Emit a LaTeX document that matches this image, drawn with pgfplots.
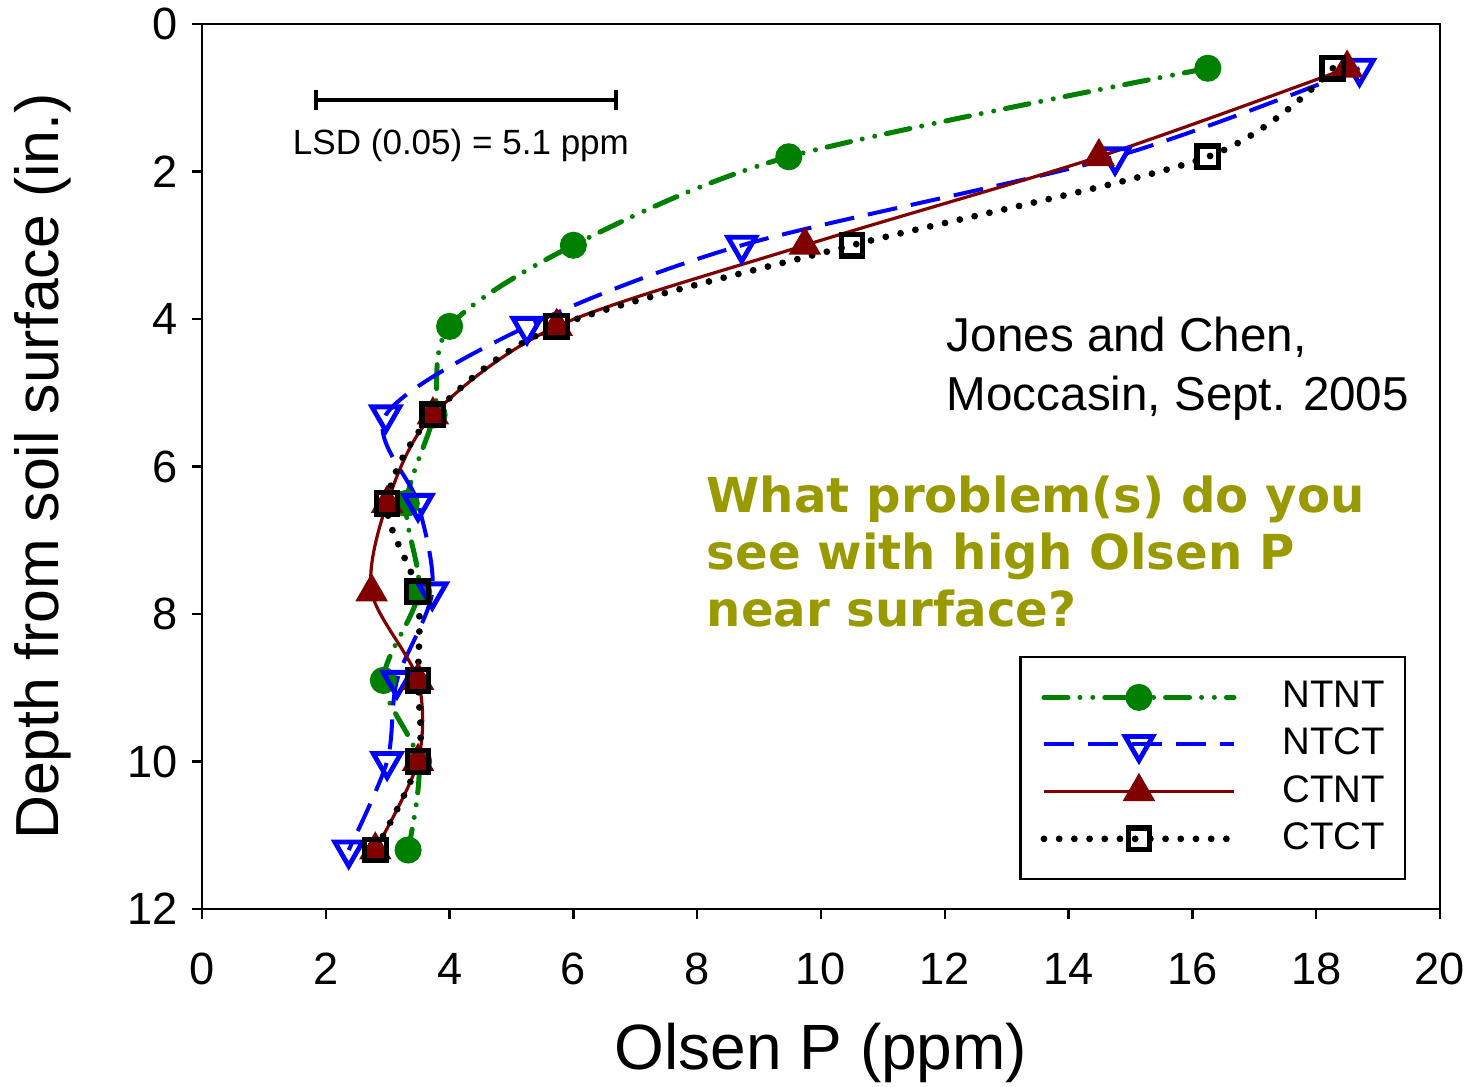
\documentclass[border=0pt]{standalone}
\usepackage{fontspec}
\setmainfont{Liberation Sans}
\newfontfamily\olivefont{DejaVu Sans}
\usepackage{pgfplots}
\pgfplotsset{compat=1.18}
\definecolor{ntnt}{RGB}{0,128,0}
\definecolor{ntct}{RGB}{0,0,255}
\definecolor{ctnt}{RGB}{128,0,0}
\definecolor{olivetext}{RGB}{153,153,0}

\begin{document}
\begin{tikzpicture}
\begin{axis}[
  scale only axis, width=309.5pt, height=221.25pt,
  xmin=0, xmax=20, ymin=0, ymax=12, y dir=reverse,
  xtick={0,2,...,20}, ytick={0,2,...,12},
  tick align=outside, xtick pos=left, ytick pos=left, major tick length=2.5pt,
  axis line style={line width=0.6pt},
  every tick/.style={black, line width=0.6pt},
  /pgf/number format/assume math mode=true,
  ticklabel style={font=\fontsize{11.3}{13}\selectfont},
  xticklabel style={yshift=-5pt},
  xlabel={Olsen P (ppm)},
  ylabel={Depth from soil surface (in.)},
  xlabel style={font=\fontsize{16}{19}\selectfont, at={(axis description cs:0.5,-0.163)}, anchor=center},
  ylabel style={font=\fontsize{15.2}{18}\selectfont, at={(axis description cs:-0.129,0.5)}, anchor=center},
  legend image code/.code={\draw[mark repeat=2,mark phase=2,#1] plot coordinates {(0pt,0pt) (23.75pt,0pt) (47.5pt,0pt)};},
  legend style={at={(axis description cs:0.9725,0.2859)}, anchor=north east,
    draw=black, line width=0.6pt, inner xsep=5pt, inner ysep=6pt,
    font=\fontsize{9.6}{11}\selectfont, row sep=3.6pt,
    nodes={inner sep=0pt},
    /tikz/every odd column/.append style={column sep=11.25pt}},
  legend cell align=left,
]
% NTNT
\addplot[ntnt, line width=1.25pt, smooth, line cap=round,
  dash pattern=on 6pt off 3pt on 0pt off 3.2pt on 0pt off 3pt,
  mark=*, mark size=2.75pt, mark options={solid, fill=ntnt}] coordinates {
  (16.25,0.6)(9.48,1.8)(6.0,3.0)(4.0,4.1)(3.75,5.3)(3.3,6.5)(3.5,7.7)(2.93,8.9)(3.5,10.0)(3.33,11.2)
}; \addlegendentry{NTNT}
% NTCT
\addplot[ntct, line width=1pt, smooth, dash pattern=on 7.5pt off 3.5pt,
  mark=triangle, mark size=4pt, mark options={solid, rotate=180, line width=1.2pt}] coordinates {
  (18.7,0.6)(14.75,1.8)(8.72,3.0)(5.25,4.1)(2.97,5.3)(3.49,6.5)(3.72,7.7)(3.15,8.9)(2.99,10.0)(2.37,11.2)
}; \addlegendentry{NTCT}
% CTNT
\addplot[ctnt, line width=0.8pt, smooth,
  mark=triangle*, mark size=3.9pt, mark options={solid, fill=ctnt}] coordinates {
  (18.5,0.6)(14.49,1.8)(9.74,3.0)(5.73,4.1)(3.73,5.3)(2.99,6.5)(2.74,7.7)(3.49,8.9)(3.49,10.0)(2.8,11.2)
}; \addlegendentry{CTNT}
% CTCT
\addplot[black, line width=1.7pt, smooth, line cap=round, dash pattern=on 0pt off 3.8pt,
  mark=square, mark size=2.7pt, mark options={solid, line width=1.3pt}] coordinates {
  (18.27,0.6)(16.25,1.8)(10.5,3.0)(5.73,4.1)(3.73,5.3)(2.99,6.5)(3.48,7.7)(3.49,8.9)(3.49,10.0)(2.8,11.2)
}; \addlegendentry{CTCT}

% LSD bar
\draw[line width=1pt] (axis cs:1.842,1.03) -- (axis cs:6.688,1.03);
\draw[line width=1pt] (axis cs:1.842,0.894) -- (axis cs:1.842,1.166);
\draw[line width=1pt] (axis cs:6.688,0.894) -- (axis cs:6.688,1.166);
\node[anchor=base, inner sep=0pt, font=\fontsize{8.76}{10}\selectfont] at (axis cs:4.184,1.776) {LSD (0.05) = 5.1 ppm};

\node[anchor=base west, inner sep=0pt, font=\fontsize{11.9}{14}\selectfont] at (axis cs:12.02,4.447) {Jones and Chen,};
\node[anchor=base west, inner sep=0pt, font=\fontsize{11.9}{14}\selectfont] at (axis cs:12.02,5.234) {Moccasin, Sept. 2005};

\node[anchor=base west, inner sep=0pt, text=olivetext, font=\olivefont\bfseries\fontsize{12.05}{14}\selectfont] at (axis cs:8.142,6.617) {What problem(s) do you};
\node[anchor=base west, inner sep=0pt, text=olivetext, font=\olivefont\bfseries\fontsize{12.05}{14}\selectfont] at (axis cs:8.142,7.403) {see with high Olsen P};
\node[anchor=base west, inner sep=0pt, text=olivetext, font=\olivefont\bfseries\fontsize{12.05}{14}\selectfont] at (axis cs:8.142,8.176) {near surface?};
\end{axis}
\pgfresetboundingbox
\path[use as bounding box] (-50.5pt,-44.25pt) rectangle (317.5pt,227.25pt);
\end{tikzpicture}
\end{document}
